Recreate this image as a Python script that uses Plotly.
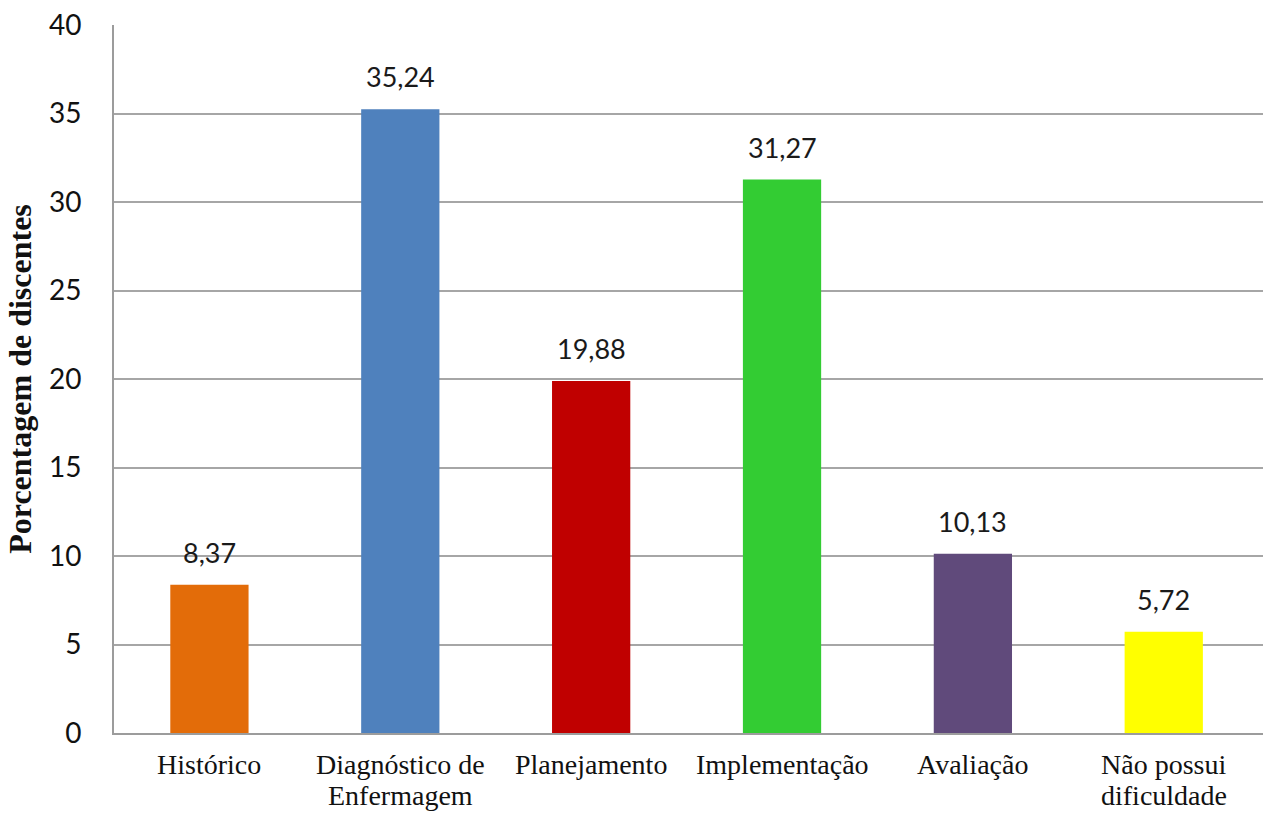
import plotly.graph_objects as go

# Etapas do processo de enfermagem e percentagem de discentes com dificuldade
categorias = ["Histórico", "Diagnóstico de Enfermagem", "Planejamento",
              "Implementação", "Avaliação", "Não possui dificuldade"]
linhas_rotulo = [["Histórico"], ["Diagnóstico de", "Enfermagem"], ["Planejamento"],
                 ["Implementação"], ["Avaliação"], ["Não possui", "dificuldade"]]
percentuais = [8.37, 35.24, 19.88, 31.27, 10.13, 5.72]
cores = ["#E36C09", "#4F81BD", "#C00000", "#33CC33", "#604A7B", "#FFFF00"]
ticks_y = [0, 5, 10, 15, 20, 25, 30, 35, 40]

rotulos = [f"{v:.2f}".replace(".", ",") for v in percentuais]

SANS = "Lato, 'Open Sans', sans-serif"
SERIF = "'Liberation Serif', 'Times New Roman', serif"

fig = go.Figure(go.Bar(
    x=categorias,
    y=percentuais,
    marker=dict(color=cores, line=dict(width=0)),
    width=0.41,
    showlegend=False,
    hoverinfo="skip",
))

# valores sobre as barras
for cat, v, txt in zip(categorias, percentuais, rotulos):
    fig.add_annotation(
        x=cat, y=v, text=txt, showarrow=False,
        yanchor="bottom", yshift=15, borderpad=0,
        font=dict(family=SANS, size=27, color="#1a1a1a"),
    )

# nomes das categorias, uma linha por anotação
for cat, linhas in zip(categorias, linhas_rotulo):
    for i, linha in enumerate(linhas):
        fig.add_annotation(
            x=cat, y=0, text=linha, showarrow=False,
            yanchor="top", yshift=-15 - 31 * i, borderpad=0,
            font=dict(family=SERIF, size=28, color="#111111"),
        )

fig.update_layout(
    width=1263, height=814,
    margin=dict(l=114, r=0, t=25, b=81),
    paper_bgcolor="white",
    plot_bgcolor="white",
    xaxis=dict(
        type="category",
        range=[-0.5, 5.52],
        showline=True, linecolor="#9c9c9c", linewidth=2,
        showgrid=False, ticks="", showticklabels=False,
    ),
    yaxis=dict(
        range=[0, 40],
        tickvals=ticks_y,
        showline=True, linecolor="#9c9c9c", linewidth=2,
        showgrid=True, gridcolor="#a6a6a6", gridwidth=2,
        zeroline=False,
        ticks="", ticklabelstandoff=25,
        tickfont=dict(family=SANS, size=28, color="#111111"),
        title=dict(
            text="<b>Porcentagem de discentes</b>",
            font=dict(family=SERIF, size=32, color="#111111"),
            standoff=8,
        ),
    ),
)

fig.write_html("out.html")
